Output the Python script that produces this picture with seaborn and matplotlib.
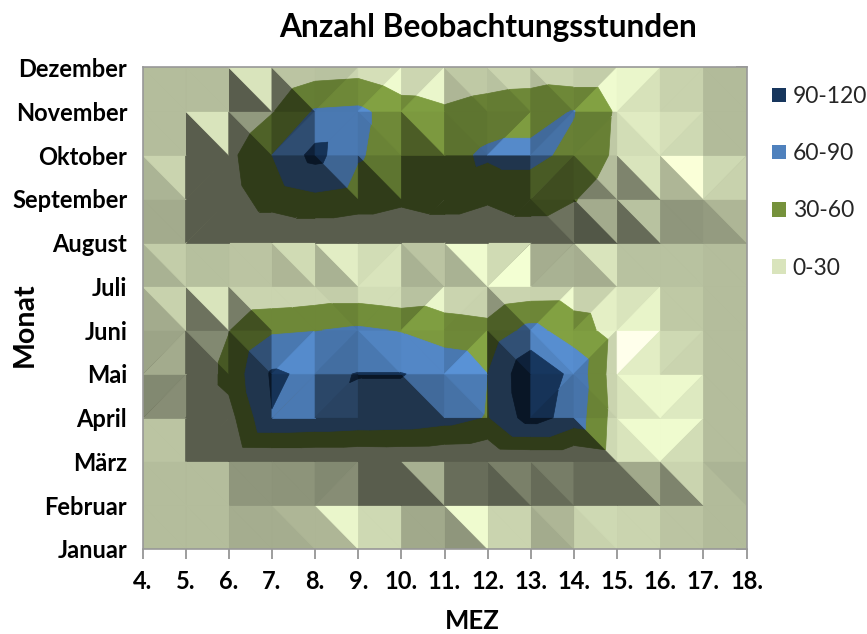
import numpy as np
import matplotlib
matplotlib.use("Agg")
import matplotlib.pyplot as plt
import matplotlib.tri as mtri
from matplotlib.patches import Patch
import seaborn as sns

months = ["Januar","Februar","März","April","Mai","Juni","Juli","August","September","Oktober","November","Dezember"]
hours = [4,5,6,7,8,9,10,11,12,13,14,15,16,17,18]
hour_labels = [f"{h}." for h in hours]
band_labels = ["0-30","30-60","60-90","90-120"]
band_levels = [-1,30,60,90,125]
band_hex = ["#D9E4BC","#76923C","#4F81BD","#17365D"]

jan = [0,0,0,1,2,2,1,1,0,0,1,0,0,0,0]
feb = [0,0,0,1,2,1,3,1,1,2,2,1,1,0,0]
mrz = [0,0,2,3,3,3,4,3,1,3,3,13,0,0,0]
apr = [0,0,19,89,86,82,80,72,58,104,77,16,5,0,0]
mai = [0,0,40,94,84,91,91,82,60,115,82,12,5,0,0]
jun = [0,0,29,56,59,65,58,45,40,69,45,16,5,0,0]
jul = [0,0,0,3,8,8,2,7,3,10,11,6,0,0,0]
aug = [0,0,0,0,0,0,0,0,0,0,0,0,0,0,0]
sep = [0,0,17,43,53,46,37,46,35,49,32,8,3,0,0]
okt = [0,0,22,60,100,63,45,50,65,65,55,24,10,0,0]
nov = [0,0,0,28,63,66,45,35,45,52,61,26,5,0,0]
dez = [0,0,0,0,15,18,4,2,8,10,5,5,0,0,0]
hours_table = np.array([jan,feb,mrz,apr,mai,jun,jul,aug,sep,okt,nov,dez],float)

# facet split of every cell: b = "\", s = "/", . = along the higher pair of corners
cell_split = ["bbbbbbbbbbbbbb","bbbbsbbsbbsbbb","b.s.......bbsb","ss.ssbbb.sbbsb",
              "sbbssb.sbbsssb","bbbbb.s.bsssbb","bbbbbsbbssbbbb","b........bbbbb",
              "b...bb...sbbbs","bbbs.bbbsssbsb","bbbbsssbbbsssb"]
# facet brightness in percent of the band colour (left and right facet of each cell)
shade_left = [
 [83,83,76,76,80,95,74,66,93,75,92,93,86,82],
 [83,83,66,65,60,41,41,48,42,47,47,47,58,82],
 [86,41,41,41,41,41,41,41,41,41,41,100,110,83],
 [60,41,41,94,55,41,41,88,41,95,90,100,109,83],
 [72,41,41,93,90,93,105,93,41,102,108,125,95,83],
 [75,50,55,93,93,97,85,93,65,92,92,100,88,83],
 [78,84,86,80,78,97,78,78,96,76,76,85,85,83],
 [75,41,41,41,41,41,41,41,41,41,38,47,66,68],
 [79,41,41,41,41,41,41,41,41,62,56,58,80,95],
 [83,41,41,52,94,90,64,78,83,82,86,97,98,82],
 [83,83,41,45,85,98,94,80,85,82,90,108,92,82]]
shade_right = [
 [83,83,76,80,108,95,74,110,93,80,95,93,86,82],
 [83,83,66,65,62,41,77,48,56,55,47,74,93,79],
 [86,41,41,41,41,41,41,41,41,41,95,110,97,83],
 [62,41,41,94,52,41,82,95,41,85,93,109,102,83],
 [75,60,62,108,85,102,105,113,62,110,93,104,93,83],
 [92,100,93,93,90,97,108,92,93,110,105,107,88,83],
 [90,84,86,96,104,100,86,110,112,78,100,85,85,83],
 [75,41,41,41,41,41,41,41,41,50,75,85,66,80],
 [93,41,41,41,78,80,41,41,41,53,83,100,115,92],
 [83,100,67,60,94,94,105,80,107,88,88,103,95,82],
 [83,83,100,86,93,110,108,88,93,93,110,99,92,82]]

sns.set_theme(style="white")
plt.rcParams["font.family"] = ["Lato", "DejaVu Sans"]
palette = np.array(sns.color_palette(band_hex))

W, H = 867, 634
fig = plt.figure(figsize=(W/100, H/100), dpi=100, facecolor="white")
L, R, T, B = 142.5, 746.5, 67.5, 549
ax = fig.add_axes([L/W, 1-B/H, (R-L)/W, (B-T)/H])
ax.set_facecolor("#6e725c")

def facet(ax, pts, shade):
    xs = [p[0] for p in pts]; ys = [p[1] for p in pts]
    zs = [hours_table[p[1], p[0]] for p in pts]
    colors = [tuple(np.clip(c*shade/100, 0, 1)) for c in palette]
    tri = mtri.Triangulation(xs, ys, [[0,1,2]])
    cs = ax.tricontourf(tri, zs, levels=band_levels, colors=colors, antialiased=True)
    cs.set_edgecolor("face")
    cs.set_linewidth(0.5)

for layer in range(2):
    for r in range(hours_table.shape[0]-1):
        for c in range(hours_table.shape[1]-1):
            bl, br, tl, tr = (c,r), (c+1,r), (c,r+1), (c+1,r+1)
            kind = cell_split[r][c]
            if kind == ".":
                kind = "s" if hours_table[r,c]+hours_table[r+1,c+1] > hours_table[r+1,c]+hours_table[r,c+1] else "b"
            if kind == "b":
                facet(ax, [tl, bl, br], shade_left[r][c])
                facet(ax, [tl, tr, br], shade_right[r][c])
            else:
                facet(ax, [bl, tl, tr], shade_left[r][c])
                facet(ax, [bl, br, tr], shade_right[r][c])

ax.set_xlim(0, len(hours)-1)
ax.set_ylim(0, len(months)-1)
ax.set_xticks(range(len(hours)))
ax.set_xticklabels(hour_labels, fontsize=17, fontweight="bold", color="black")
ax.set_yticks(range(len(months)))
ax.set_yticklabels(months, fontsize=17, fontweight="bold", color="black")
for s in ax.spines.values():
    s.set_color("#989898"); s.set_linewidth(1.2)
ax.tick_params(axis="x", bottom=True, length=7, width=1.2, color="#8c8c8c", pad=8)
ax.tick_params(axis="y", left=False, right=True, direction="in", length=8, width=1.2,
               color="#8c8c8c", pad=11)
ax.set_yticks([0], minor=True)
ax.tick_params(axis="y", which="minor", left=True, right=False, direction="out", length=7, width=1.2, color="#8c8c8c", labelleft=False)

fig.text(488/W, 1-28/H, "Anzahl Beobachtungsstunden", fontsize=22.8, fontweight="bold", ha="center", va="center", color="black")
fig.text(472/W, 1-621/H, "MEZ", fontsize=18.5, fontweight="bold", ha="center", va="center", color="black")
fig.text(25/W, 1-325/H, "Monat", fontsize=20.5, fontweight="bold", ha="center", va="center", rotation=90, color="black")

handles = [Patch(facecolor=band_hex[i], edgecolor="none", label=band_labels[i]) for i in [3,2,1,0]]
fig.legend(handles=handles, loc="upper left", bbox_to_anchor=(772/W, 1-86/H), frameon=False,
           prop={"size":16.5, "family":"Lato"}, labelspacing=1.58, handlelength=0.61, handleheight=0.61,
           handletextpad=0.3, borderaxespad=0, borderpad=0)

fig.savefig("out.png", dpi=100)
